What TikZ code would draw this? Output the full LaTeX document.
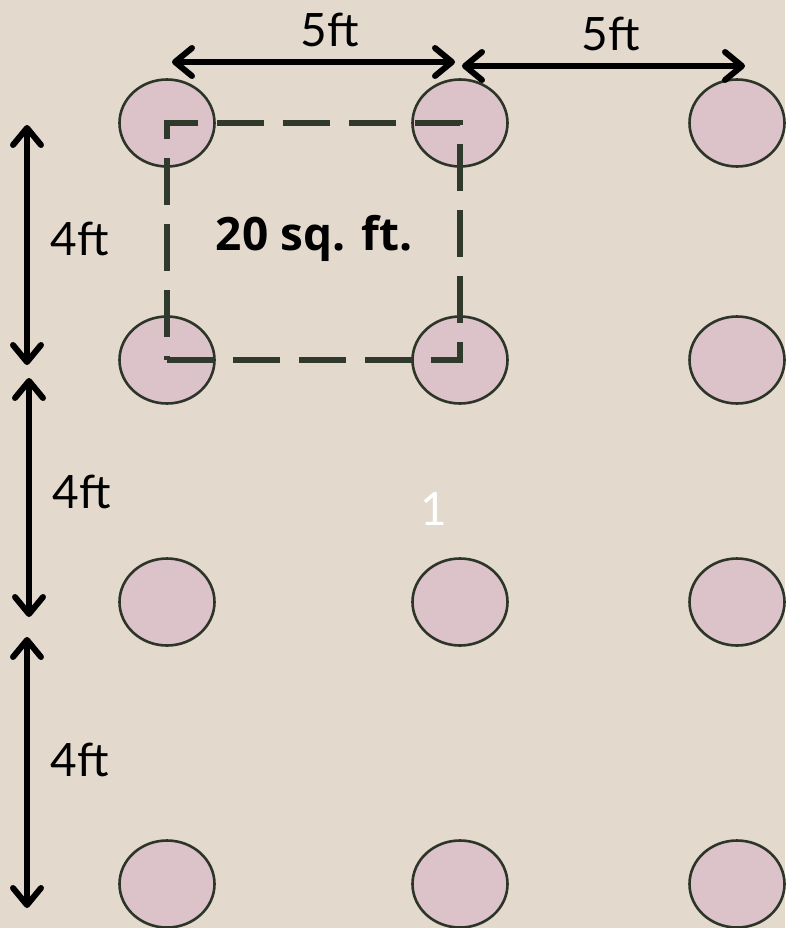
\documentclass[tikz,border=0pt]{standalone}
\usepackage{fontspec}
\usetikzlibrary{arrows.meta}
\newfontfamily\lblfont{Lato}
\newfontfamily\boldlbl{Open Sans}
\definecolor{bgcol}{HTML}{E3DACD}
\definecolor{polefill}{HTML}{DBC3C9}
\definecolor{poleline}{HTML}{2D3529}
\definecolor{dashcol}{HTML}{2F3A2C}
\tikzset{
  pole/.style={draw=poleline, line width=2.6pt, fill=polefill},
  dimarrow/.style={line width=6pt, line cap=round, black,
    {Straight Barb[length=17pt, width=28pt, line cap=round, line join=round]}-{Straight Barb[length=17pt, width=28pt, line cap=round, line join=round]}},
  lbl/.style={font=\lblfont\fontsize{46}{50}\selectfont, anchor=base, inner sep=0pt, text=black},
  area/.style={draw=dashcol, line width=5.5pt, dash pattern=on 47pt off 19pt, line join=miter},
}
\begin{document}
\begin{tikzpicture}[x=1pt, y=-1pt]
\fill[bgcol] (0,0) rectangle (785,928);
\useasboundingbox (0,0) rectangle (785,928);
% poles
\foreach \r/\yy in {1/123, 2/360, 3/602, 4/884}{
  \foreach \c/\xx in {1/167, 2/460, 3/737}{
    \coordinate (c\r\c) at (\xx,\yy);
    \draw[pole] (c\r\c) ellipse [x radius=47.5, y radius=43.5];
  }
}
% dashed area
\draw[area] (c21.center) -- (c22.center) -- (c12.center) -- (c11.center) -- cycle;
% dimension arrows
\coordinate (h1a) at (172,62);
\coordinate (h1b) at (455,62);
\coordinate (h2a) at (462,66);
\coordinate (h2b) at (745,66);
\coordinate (v1a) at (27,125);
\coordinate (v1b) at (27,365);
\coordinate (v2a) at (29,378);
\coordinate (v2b) at (29,617);
\coordinate (v3a) at (27,637);
\coordinate (v3b) at (27,908);
\draw[dimarrow] (h1a) -- (h1b);
\draw[dimarrow] (h2a) -- (h2b);
\draw[dimarrow] (v1a) -- (v1b);
\draw[dimarrow] (v2a) -- (v2b);
\draw[dimarrow] (v3a) -- (v3b);
% labels
\node[lbl] (t5a) at (330,47) {5ft};
\node[lbl] (t5b) at (611,51) {5ft};
\node[lbl] (t4a) at (80,255) {4ft};
\node[lbl] (t4b) at (82,508) {4ft};
\node[lbl] (t4c) at (80,776) {4ft};
\node[anchor=base, inner sep=0pt, font=\boldlbl\bfseries\fontsize{46}{50}\selectfont] (area) at (314,250) {20 sq. ft.};
\node[lbl, text=white] (one) at (434,525) {1};
\end{tikzpicture}
\end{document}
